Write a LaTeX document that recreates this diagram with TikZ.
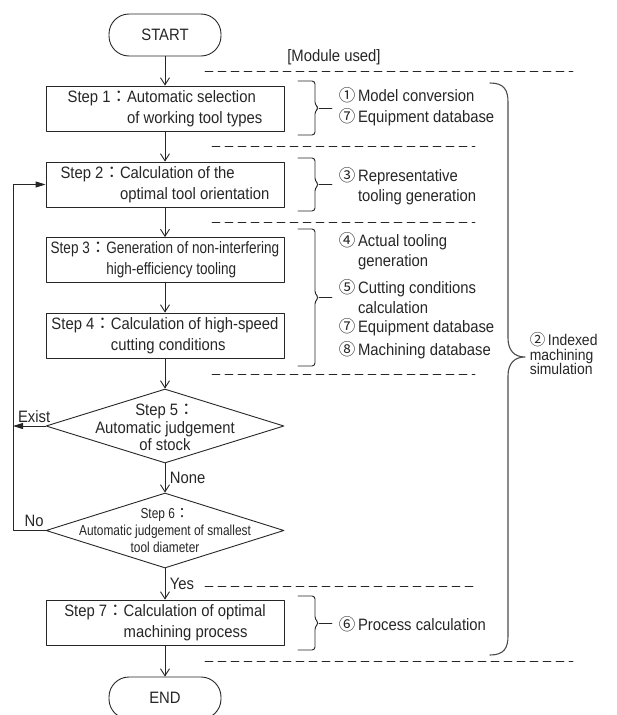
\documentclass[tikz,border=0pt]{standalone}
\usepackage{fontspec}
\setmainfont{Liberation Sans}[FakeStretch=0.9]
\newfontfamily\cjk{Noto Sans CJK JP}
\newfontfamily\narrowfont{Liberation Sans}[FakeStretch=0.82]
\usepackage{tikz}
\usetikzlibrary{arrows.meta,shapes.geometric}
\definecolor{lngray}{rgb}{0.15,0.15,0.15}
\definecolor{bggray}{rgb}{0.3,0.3,0.3}

\begin{document}
\begin{tikzpicture}[line cap=round,line join=round,x=1pt,y=-1pt,
    font=\fontsize{16.5}{21}\selectfont,line width=0.9pt,color=lngray,
    stepbox/.style={draw,minimum width=238pt,minimum height=45pt,inner sep=0pt},
    termbox/.style={draw,rounded corners=20pt,minimum width=112pt,minimum height=42pt,inner sep=0pt},
    decision/.style={draw,diamond,minimum width=238pt,minimum height=74pt,inner sep=0pt},
    flow/.style={-{Straight Barb[length=7pt,width=9pt]}},
    back/.style={-{Triangle[length=10pt,width=6pt]}},
    modline/.style={dash pattern=on 8pt off 5pt,line width=0.8pt},
    bracket/.style={rounded corners=3pt}]
    \useasboundingbox (0,0) rectangle (616,715);
    \node[termbox] (start) at (165,35) {START};
    \node[stepbox] (s1) at (165,108.5) {\begin{tabular}{@{}l@{}l@{}}Step 1{\cjk ：}&Automatic selection\\&of working tool types\end{tabular}};
    \node[stepbox] (s2) at (165,184.5) {\begin{tabular}{@{}l@{}l@{}}Step 2{\cjk ：}&Calculation of the\\&optimal tool orientation\end{tabular}};
    \node[stepbox,font=\narrowfont\fontsize{16.5}{21}\selectfont] (s3) at (165,260) {\begin{tabular}{@{}l@{}l@{}}Step 3{\cjk ：}&Generation of non-interfering\\&high-efficiency tooling\end{tabular}};
    \node[stepbox] (s4) at (165,335.5) {\begin{tabular}{@{}l@{}l@{}}Step 4{\cjk ：}&Calculation of high-speed\\&cutting conditions\end{tabular}};
    \node[decision] (s5) at (165,426) {};
    \node[align=center,font=\fontsize{16.5}{17.5}\selectfont] (s5txt) at (165,427.5) {Step 5{\cjk ：}\\Automatic judgement\\of stock};
    \node[decision,minimum height=75pt] (s6) at (165,530.5) {};
    \node[align=center,font=\narrowfont\fontsize{14.5}{17}\selectfont] (s6txt) at (165,531) {Step 6{\cjk ：}\\Automatic judgement of smallest\\tool diameter};
    \node[stepbox] (s7) at (165,622.5) {\begin{tabular}{@{}l@{}l@{}}Step 7{\cjk ：}&Calculation of optimal\\&machining process\end{tabular}};
    \node[termbox] (end) at (165,698) {END};
    \draw[flow] (start) -- (s1);
    \draw[flow] (s1) -- (s2);
    \draw[flow] (s2) -- (s3);
    \draw[flow] (s3) -- (s4);
    \draw[flow] (s4) -- (s5);
    \draw[flow] (s5) -- node[right,xshift=1pt] {None} (s6);
    \draw[flow] (s6) -- node[right,xshift=1pt] {Yes} (s7);
    \draw[flow] (s7) -- (end);
    \coordinate (loopx) at (13,0);
    \draw[back] (s5.west) -- node[above,pos=0.35] {Exist} (s5.west -| loopx);
    \draw[back] (s6.west) -- node[above,pos=0.35] {No} (s6.west -| loopx) -- (s2.west -| loopx) -- (s2.west);
    \node (modhead) at (334,57) {[Module used]};
    \draw[modline] (205,71) -- (573,71);
    \draw[modline] (212,146) -- (475,146);
    \draw[modline] (212,222) -- (475,222);
    \draw[modline] (212,374) -- (475,374);
    \draw[modline] (205,586) -- (475,586);
    \draw[modline] (205,661) -- (573,661);
    \draw[bracket] (298,81) -| (315,105) -- (319,108) -- (315,111) |- (298,135);
    \draw (319,108) -- (332,108);
    \draw[bracket] (298,158) -| (315,181) -- (319,184.5) -- (315,188) |- (298,211);
    \draw (319,184.5) -- (332,184.5);
    \draw[bracket] (298,229) -| (315,294) -- (319,297.5) -- (315,301) |- (298,366);
    \draw (319,297.5) -- (332,297.5);
    \draw[bracket] (298,596) -| (315,619.5) -- (319,623) -- (315,626.5) |- (298,650);
    \draw (319,623) -- (332,623);
    \draw[color=bggray,line width=1.1pt] (490,83) .. controls (504,83) and (508,90) .. (508,102) -- (508,338) .. controls (508,350) and (514,357) .. (525,357) .. controls (514,357) and (508,364) .. (508,376) -- (508,636) .. controls (508,648) and (504,655) .. (490,655);
    \node[anchor=west] (m1) at (335,108) {\begin{tabular}{@{}l@{\,}l@{}}{\cjk ①}&Model conversion\\{\cjk ⑦}&Equipment database\end{tabular}};
    \node[anchor=west,font=\fontsize{16.5}{20}\selectfont] (m2) at (335,187) {\begin{tabular}{@{}l@{\,}l@{}}{\cjk ③}&Representative\\&tooling generation\end{tabular}};
    \node[anchor=west,font=\fontsize{16.5}{19.5}\selectfont] (m3) at (335,297) {\begin{tabular}{@{}l@{\,}l@{}}{\cjk ④}&Actual tooling\\&generation\\[7.5pt]{\cjk ⑤}&Cutting conditions\\&calculation\\{\cjk ⑦}&Equipment database\\[2.5pt]{\cjk ⑧}&Machining database\end{tabular}};
    \node[anchor=west] (m4) at (335,624) {{\cjk ⑥}\,Process calculation};
    \node[anchor=west,align=left,font=\fontsize{15.5}{14.5}\selectfont] (m5) at (526,354) {{\cjk ②}\,Indexed\\machining\\simulation};
\end{tikzpicture}
\end{document}
